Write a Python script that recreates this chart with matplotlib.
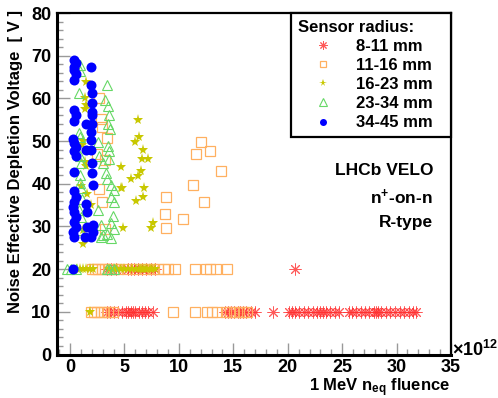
import numpy as np
import matplotlib
matplotlib.use("Agg")
import matplotlib.pyplot as plt
from matplotlib.lines import Line2D
from matplotlib.ticker import MultipleLocator

plt.rcParams['font.family'] = ['Liberation Sans', 'DejaVu Sans']
plt.rcParams['font.weight'] = 'bold'
plt.rcParams['mathtext.fontset'] = 'custom'
plt.rcParams['mathtext.rm'] = 'Liberation Sans:bold'
plt.rcParams['mathtext.bf'] = 'Liberation Sans:bold'
plt.rcParams['mathtext.it'] = 'Liberation Sans:bold'

# ---- data (fluence in 1e12 n_eq/cm2, voltage in V) ----
labels = ['8-11 mm', '11-16 mm', '16-23 mm', '23-34 mm', '34-45 mm']

# 8-11 mm
red_fl_10V = [3.4, 3.7, 4.0, 4.4, 4.8, 5.1, 5.3, 5.6, 5.8, 6.0, 6.3, 6.6, 6.9, 7.2, 7.6,
              14.2, 14.5, 14.8, 15.1, 15.4, 15.6, 15.9, 16.2, 16.6, 17.0, 18.6,
              20.1, 20.4, 20.7, 21.0, 21.5, 21.9, 22.3, 22.7, 23.0, 23.2, 23.5, 23.9, 24.3, 24.7,
              25.6, 25.9, 26.3, 26.7, 27.1, 27.5, 27.9, 28.1, 28.3, 28.6, 29.0, 29.4, 29.9,
              30.3, 30.7, 31.1, 31.5, 31.8]
red_fl_20V = [3.4, 3.8, 4.2, 5.3, 5.6, 5.9, 6.2, 6.6, 7.0, 7.4, 7.8, 20.7]

# 11-16 mm
orange_fl_10V = [1.9, 2.2, 2.5, 2.8, 3.1, 3.5, 3.9, 9.5, 11.5, 12.6, 13.0, 13.5,
                 14.3, 14.7, 15.1, 15.5, 15.9, 16.3]
orange_fl_20V = [2.0, 2.3, 2.6, 2.9, 3.2, 3.6, 4.0, 4.4, 5.2, 6.0, 6.9, 7.6, 8.1, 8.6,
                 9.0, 9.6, 11.5, 12.5, 12.9, 13.4, 14.4]
orange_fl = [2.7, 2.8, 2.9, 3.4, 2.5, 3.2, 2.7, 2.9, 3.2, 12.0, 12.9, 11.6, 13.9, 11.3,
             8.8, 12.3, 8.7, 10.4, 8.8]
orange_v = [60.0, 55.2, 53.2, 50.8, 47.0, 45.6, 38.8, 35.7, 29.3, 49.8, 47.7, 46.9, 43.0,
            39.8, 36.9, 35.7, 32.8, 31.7, 29.7]

# 16-23 mm
yellow_fl_10V = [1.8]
yellow_fl_20V = [0.6, 0.9, 1.2, 1.5, 1.8, 2.1, 3.6, 4.0, 4.3, 4.7, 5.0, 5.3, 5.7, 6.1,
                 6.3, 6.5, 6.7, 6.9, 7.1, 7.3, 7.5, 7.8]
yellow_fl = [1.5, 1.4, 1.5, 1.4, 1.2, 1.1, 1.4, 1.5, 1.6, 1.9, 1.2, 1.2, 1.0,
             6.2, 6.3, 6.0, 6.7, 6.6, 7.2, 4.7, 6.5, 6.2, 5.6, 4.7, 4.8, 6.8, 6.7, 6.1,
             7.6, 7.4, 4.9]
yellow_v = [63.9, 60.0, 58.4, 57.4, 50.0, 49.0, 45.2, 44.1, 37.7, 35.0, 29.1, 26.0, 39.5,
            54.9, 51.0, 49.8, 48.0, 45.9, 45.9, 43.9, 42.9, 41.7, 41.1, 39.0, 39.0, 39.0,
            36.8, 35.9, 30.9, 29.7, 29.7]

# 23-34 mm
green_fl_20V = [-0.3, 0.1, 0.5, 3.4, 3.7, 4.0]
green_fl = [0.9, 0.9, 0.8, 0.8, 0.9, 0.9, 1.0, 0.9, 1.0, 0.8, 1.0, 0.8, 0.9, 1.1,
            3.4, 3.2, 3.5, 3.6, 2.6, 3.5, 3.6, 2.7, 3.6, 3.0, 3.8, 4.0, 3.8, 4.0, 2.6,
            2.8, 3.8, 4.0, 3.4, 2.8, 3.8, 3.0, 3.9, 3.5, 3.7, 3.3, 3.4]
green_v = [67.9, 66.3, 61.2, 51.8, 50.9, 46.5, 44.9, 40.2, 39.0, 33.8, 32.2, 29.1, 42.0, 36.5,
           63.1, 59.6, 58.1, 56.1, 49.8, 48.9, 47.6, 46.6, 45.9, 44.9, 39.7, 38.5, 37.0,
           35.8, 33.8, 30.4, 30.8, 29.4, 28.2, 27.5, 27.4, 28.0, 32.5, 54.0, 52.8, 42.5, 41.0]

# 34-45 mm
blue_fl_20V = [0.3]
blue_fl = [0.4, 0.5, 0.4, 0.4, 0.5, 0.4, 0.4, 0.5, 0.4, 0.3, 0.4, 0.5, 0.4, 0.5, 0.4,
           0.4, 0.5, 0.4, 0.3, 0.4, 0.5, 0.4, 0.5, 0.3, 0.4,
           1.9, 1.9, 2.0, 2.0, 2.0, 2.0, 1.5, 2.0, 1.9, 1.9, 1.5, 1.9, 2.0, 2.0, 2.1,
           1.5, 1.6, 2.1, 1.6, 2.1, 1.4, 1.9]
blue_v = [69.0, 68.2, 67.4, 66.6, 65.6, 64.4, 57.2, 56.0, 54.8, 50.6, 49.6, 48.6, 47.6,
          46.6, 42.8, 38.2, 37.0, 35.8, 34.6, 33.4, 32.2, 31.0, 29.8, 28.6, 27.6,
          67.3, 63.1, 61.2, 59.0, 56.9, 56.1, 54.1, 54.1, 52.2, 50.2, 48.0, 48.0, 44.9,
          42.6, 39.7, 35.2, 33.3, 30.3, 29.8, 28.8, 27.5, 27.5]

styles = [
    dict(marker=(8, 2, 0), color='#ff3030', ms=8.5, mew=0.7, mfc='none', alpha=0.8),
    dict(marker='s', color='#ffb060', ms=6.5, mew=0.9, mfc='none'),
    dict(marker='*', color='#c8c800', ms=8, mew=0, mfc='#c8c800'),
    dict(marker='^', color='#66d866', ms=7.5, mew=0.8, mfc='none'),
    dict(marker='o', color='#0000ff', ms=7.2, mew=0, mfc='#0000ff'),
]

fig = plt.figure(figsize=(4.98, 3.98), dpi=100)
ax = fig.add_axes([57 / 498, 1 - 354.5 / 398, (451 - 57) / 498, (354.5 - 13) / 398])

def draw(fl, v, st):
    ax.plot(fl, v, ls='none', **st)

draw(red_fl_10V, np.full(len(red_fl_10V), 10.0), styles[0])
draw(red_fl_20V, np.full(len(red_fl_20V), 20.0), styles[0])
draw(orange_fl_10V, np.full(len(orange_fl_10V), 10.0), styles[1])
draw(orange_fl_20V, np.full(len(orange_fl_20V), 20.0), styles[1])
draw(orange_fl, orange_v, styles[1])
draw(yellow_fl_10V, np.full(len(yellow_fl_10V), 10.0), styles[2])
draw(yellow_fl_20V, np.full(len(yellow_fl_20V), 20.0), styles[2])
draw(yellow_fl, yellow_v, styles[2])
draw(green_fl_20V, np.full(len(green_fl_20V), 20.0), styles[3])
draw(green_fl, green_v, styles[3])
draw(blue_fl_20V, np.full(len(blue_fl_20V), 20.0), styles[4])
draw(blue_fl, blue_v, styles[4])

ax.set_xlim(-1.2, 35)
ax.set_ylim(0, 80)
ax.xaxis.set_major_locator(MultipleLocator(5))
ax.xaxis.set_minor_locator(MultipleLocator(1))
ax.yaxis.set_major_locator(MultipleLocator(10))
ax.yaxis.set_minor_locator(MultipleLocator(2))
ax.tick_params(which='both', direction='in', color='#999999', labelsize=13, width=1)
ax.tick_params(which='major', length=9)
ax.tick_params(which='minor', length=4.5)
ax.tick_params(axis='y', pad=4)
ax.tick_params(axis='x', pad=3)
for lab in ax.get_xticklabels() + ax.get_yticklabels():
    lab.set_fontweight('bold')
for s in ['top', 'right']:
    ax.spines[s].set_linewidth(1.6)
for s in ['left', 'bottom']:
    ax.spines[s].set_linewidth(2.2)

fig.text(16 / 498, 1 - 10 / 398, 'Noise Effective Depletion Voltage  [ V ]', rotation=90,
         ha='center', va='top', fontsize=12, fontweight='bold')
fig.text(450 / 498, 1 - 391 / 398, '1 MeV n$_{\\rm eq}$ fluence', ha='right', va='baseline',
         fontsize=12, fontweight='bold')
fig.text(452 / 498, 1 - 350 / 398, '$\\times$10$^{12}$', ha='left', va='center',
         fontsize=13, fontweight='bold')

for txt, yy in [('LHCb VELO', 171), ('n$^{+}$-on-n', 197), ('R-type', 222)]:
    fig.text(433 / 498, 1 - yy / 398, txt, ha='right', va='center', fontsize=12.5,
             fontweight='bold')

handles = [Line2D([], [], ls='none', **dict(st, ms=st['ms'] * 0.7)) for st in styles]
x0, y0 = ax.transAxes.inverted().transform(fig.transFigure.transform((291 / 498, 1 - 13 / 398)))
x1, _ = ax.transAxes.inverted().transform(fig.transFigure.transform((451 / 498, 0)))
leg = ax.legend(handles, labels, title='Sensor radius:', loc='upper left',
                bbox_to_anchor=(x0, y0 - 1.0, x1 - x0, 1.0), mode='expand', borderaxespad=0,
                prop=dict(weight='bold', size=12), title_fontproperties=dict(weight='bold', size=12),
                alignment='left', handlelength=3.0, handletextpad=0.5, labelspacing=0.25,
                borderpad=0.4, fancybox=False, framealpha=1, edgecolor='black')
leg.get_frame().set_linewidth(1.6)

fig.savefig('out.png', dpi=100)
